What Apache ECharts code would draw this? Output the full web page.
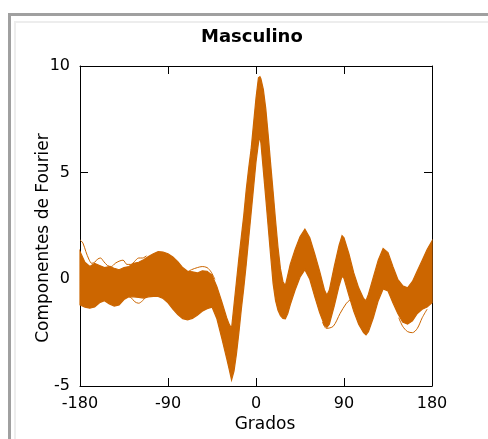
<!DOCTYPE html>
<html><head><meta charset="utf-8">
<script src="https://cdn.jsdelivr.net/npm/echarts/dist/echarts.min.js"></script>
<style>html,body{margin:0;padding:0;background:#fff}#c{width:488px;height:439px}</style>
</head><body><div id="c"></div>
<script>
// Angle samples (degrees) for the envelope of the bundle of Fourier curves
const degrees = [-180,-175,-170,-165,-160,-155,-150,-145,-140,-135,-130,-125,-120,-115,-110,-105,-100,-95,-90,-85,-80,-75,-70,-65,-60,-55,-50,-45,-40,-35,-30,-27.5,-25,-22.5,-20,-17.5,-15,-12.5,-10,-7.5,-5,-2.5,0,2.5,4,5,7.5,10,12.5,15,17.5,20,22.5,25,27.5,30,32.5,35,40,45,50,55,60,65,70,72.5,75,80,85,88,90,95,100,105,110,112.5,115,120,125,130,135,140,145,150,155,160,165,170,175,180];
// Upper edge of the bundle
const upperEnvelope = [1.3,0.8,0.6,0.75,0.65,0.55,0.6,0.52,0.45,0.55,0.6,0.75,0.8,0.92,1.07,1.2,1.3,1.28,1.2,1.05,0.83,0.55,0.38,0.35,0.3,0.4,0.38,0.2,-0.34,-1.05,-1.8,-2.1,-2.3,-1.2,-0.1,1.0,2.0,3.0,4.2,5.2,6.1,7.3,8.5,9.45,9.5,9.4,8.9,8.0,6.75,5.4,4.1,2.75,1.5,0.5,-0.1,-0.3,0.2,0.7,1.4,2.0,2.35,1.95,1.2,0.4,-0.5,-0.75,-0.5,0.6,1.6,2.05,1.95,1.2,0.3,-0.4,-0.9,-1.0,-0.7,0.1,0.9,1.45,1.25,0.6,0.0,-0.3,-0.4,-0.1,0.4,0.9,1.4,1.8];
// Lower edge of the bundle
const lowerEnvelope = [-1.2,-1.3,-1.35,-1.3,-1.1,-1.0,-1.15,-1.25,-1.2,-0.95,-0.82,-0.82,-0.85,-0.88,-0.82,-0.8,-0.8,-0.9,-1.1,-1.4,-1.65,-1.85,-1.9,-1.83,-1.68,-1.5,-1.38,-1.3,-1.85,-2.76,-3.7,-4.2,-4.72,-4.3,-3.5,-2.5,-1.4,-0.4,0.7,1.9,3.1,4.3,5.5,6.4,6.7,6.4,5.1,3.8,2.45,1.1,-0.2,-1.0,-1.45,-1.7,-1.83,-1.85,-1.6,-1.2,-0.5,0.1,0.45,0.0,-0.8,-1.55,-2.15,-2.25,-2.1,-1.25,-0.3,0.15,0.05,-0.75,-1.5,-2.1,-2.5,-2.6,-2.45,-1.8,-1.0,-0.45,-0.55,-1.1,-1.6,-2.0,-2.1,-1.95,-1.6,-1.4,-1.3,-1.1];
// Individual curves that stray outside the bundle
const strayTopLeft = [[-180,1.85],[-177,1.7],[-174,1.3],[-171,0.95],[-168,0.75],[-165,0.8],[-162,0.95],[-159,1.0],[-156,0.85],[-152,0.65],[-148,0.6],[-144,0.75],[-140,0.85],[-136,0.9],[-132,0.7],[-128,0.7],[-124,0.85],[-120,1.0],[-116,1.0],[-112,1.1]];
const strayBottomLeft = [[-152,-0.95],[-148,-1.05],[-144,-1.2],[-140,-1.15],[-136,-0.95],[-132,-0.8],[-128,-0.85],[-124,-1.05],[-120,-1.12],[-116,-1.0],[-112,-0.8]];
const strayTopMid = [[-72,0.3],[-66,0.45],[-60,0.55],[-55,0.6],[-50,0.55],[-46,0.35],[-42,0.0]];
const strayRightMid = [[68,-2.0],[72,-2.3],[79,-2.2],[86,-1.6],[92,-1.15],[96,-0.97],[100,-0.9],[104,-1.1]];
const strayRightLow = [[146,-1.8],[150,-2.2],[155,-2.45],[160,-2.5],[165,-2.3],[170,-1.8],[175,-1.4]];

const xRange = [-180, 180], xStep = 90;
const yRange = [-5, 10], yStep = 5;
const ORANGE = '#cc6600';
const FONT = 'DejaVu Sans';

const chart = echarts.init(document.getElementById('c'), null, {renderer:'canvas'});
function strayLine(d){
  return {type:'line', data:d, symbol:'none', smooth:0.3, silent:true, animation:false,
    lineStyle:{color:ORANGE, width:1}, z:3};
}
const axisCommon = {
  type:'value', splitLine:{show:false},
  axisLine:{show:true, onZero:false, lineStyle:{color:'#000', width:1}},
  axisTick:{show:true, inside:true, length:8, lineStyle:{color:'#000'}}
};
chart.setOption({
  animation:false,
  backgroundColor:'#fff',
  title:{text:'Masculino', left:196, top:23,
    textStyle:{fontFamily:FONT, fontSize:18, fontWeight:'bold', color:'#000'}},
  graphic:[
    {type:'line', shape:{x1:8, y1:14.5, x2:488, y2:14.5}, style:{stroke:'#a0a0a0', lineWidth:3}, silent:true},
    {type:'line', shape:{x1:9.5, y1:13, x2:9.5, y2:439}, style:{stroke:'#a0a0a0', lineWidth:3}, silent:true},
    {type:'line', shape:{x1:14, y1:22, x2:488, y2:22}, style:{stroke:'#ededed', lineWidth:2}, silent:true},
    {type:'line', shape:{x1:15, y1:22, x2:15, y2:439}, style:{stroke:'#ededed', lineWidth:2}, silent:true}
  ],
  grid:{left:80, top:66, right:56, bottom:53, containLabel:false},
  xAxis:[
    Object.assign({}, axisCommon, {position:'bottom', min:xRange[0], max:xRange[1], interval:xStep,
      axisLabel:{fontFamily:FONT, fontSize:16, color:'#000', margin:10},
      name:'Grados', nameLocation:'middle', nameGap:30, nameMoveOverlap:false,
      nameTextStyle:{fontFamily:FONT, fontSize:17, color:'#000', padding:[0,0,0,18]}}),
    Object.assign({}, axisCommon, {position:'top', min:xRange[0], max:xRange[1], interval:xStep,
      axisLabel:{show:false}})
  ],
  yAxis:[
    Object.assign({}, axisCommon, {position:'left', min:yRange[0], max:yRange[1], interval:yStep,
      axisLabel:{fontFamily:FONT, fontSize:16, color:'#000', margin:10},
      name:'Componentes de Fourier', nameLocation:'middle', nameGap:28, nameMoveOverlap:false,
      nameTextStyle:{fontFamily:FONT, fontSize:17, color:'#000', padding:[0,24,0,0]}}),
    Object.assign({}, axisCommon, {position:'right', min:yRange[0], max:yRange[1], interval:yStep,
      axisLabel:{show:false}})
  ],
  series:[
    {type:'custom', xAxisIndex:0, yAxisIndex:0, data:[[0,0]], silent:true, animation:false, z:2,
      renderItem:function(params, api){
        const pts = [];
        for (let i = 0; i < degrees.length; i++) pts.push(api.coord([degrees[i], upperEnvelope[i]]));
        for (let i = degrees.length - 1; i >= 0; i--) pts.push(api.coord([degrees[i], lowerEnvelope[i]]));
        return {type:'polygon', shape:{points:pts}, style:{fill:ORANGE, stroke:ORANGE, lineWidth:1.2}};
      }},
    strayLine(strayTopLeft),
    strayLine(strayBottomLeft),
    strayLine(strayTopMid),
    strayLine(strayRightMid),
    strayLine(strayRightLow)
  ]
});
</script></body></html>
